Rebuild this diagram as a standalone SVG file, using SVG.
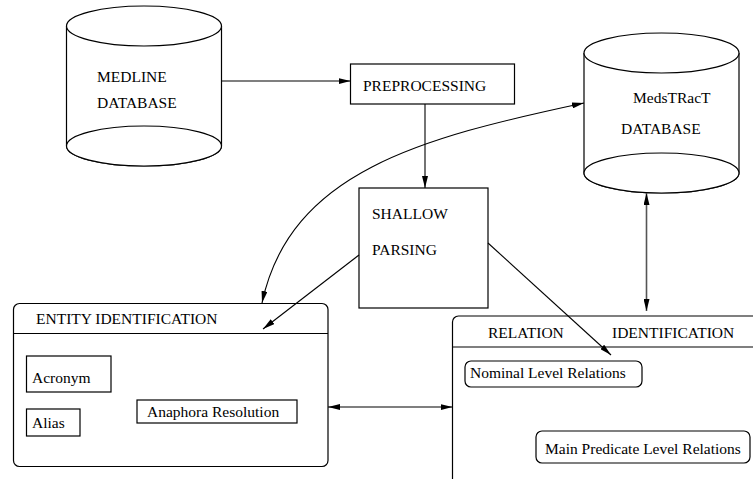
<svg xmlns="http://www.w3.org/2000/svg" width="753" height="479" viewBox="0 0 753 479">
<style>
text{font-family:'Liberation Serif','Times New Roman',Times,'DejaVu Serif',serif;font-size:15.5px;fill:#000}
.s{fill:#fff;stroke:#000;stroke-width:1.2}
.c{fill:none;stroke:#000;stroke-width:1.1}
</style>
<defs>
<marker id="ah" viewBox="0 0 12 6" refX="12" refY="3" markerWidth="12" markerHeight="6" orient="auto-start-reverse" markerUnits="userSpaceOnUse">
<path d="M0,0 L12,3 L0,6 Z" fill="#000"/>
</marker>
</defs>
<rect width="753" height="479" fill="#fff"/>
<g font-family="Liberation Serif, serif">
<g id="medline">
<path class="s" d="M66.5,26 V146 A77.5,20 0 0 0 221.5,146 V26"/>
<ellipse class="s" cx="144" cy="26" rx="77.5" ry="20"/>
<ellipse class="s" cx="144" cy="146" rx="77.5" ry="20"/>
<text x="97" y="82">MEDLINE</text>
<text x="97" y="108">DATABASE</text>
</g>
<g id="preprocessing">
<rect class="s" x="350.5" y="64" width="164" height="40"/>
<text x="363" y="91">PREPROCESSING</text>
</g>
<g id="medstract">
<path class="s" d="M584,53 V173 A77.5,20 0 0 0 739,173 V53"/>
<ellipse class="s" cx="661.5" cy="53" rx="77.5" ry="20"/>
<ellipse class="s" cx="661.5" cy="173" rx="77.5" ry="20"/>
<text x="633" y="103">MedsTRacT</text>
<text x="621" y="134">DATABASE</text>
</g>
<g id="shallow">
<rect class="s" x="359" y="188" width="129" height="120"/>
<text x="372" y="219">SHALLOW</text>
<text x="372" y="255">PARSING</text>
</g>
<g id="entity">
<rect class="s" x="13.5" y="303.5" width="314.5" height="163" rx="6"/>
<line class="c" x1="13.5" y1="333.5" x2="328" y2="333.5"/>
<text x="36" y="324">ENTITY IDENTIFICATION</text>
<rect class="s" x="26.5" y="356" width="84.5" height="36"/>
<text x="32" y="383">Acronym</text>
<rect class="s" x="26.5" y="409" width="53.5" height="27"/>
<text x="32" y="428">Alias</text>
<rect class="s" x="137" y="400" width="160" height="23"/>
<text x="147" y="417">Anaphora Resolution</text>
</g>
<g id="relation">
<rect class="s" x="452.5" y="316" width="320" height="190" rx="6"/>
<line class="c" x1="452.5" y1="347" x2="753" y2="347"/>
<text x="488" y="338">RELATION</text>
<text x="612" y="338">IDENTIFICATION</text>
<rect class="s" x="465" y="361" width="177" height="26" rx="6"/>
<text x="470" y="378">Nominal Level Relations</text>
<rect class="s" x="536" y="431" width="214" height="32" rx="6"/>
<text x="545" y="454">Main Predicate Level Relations</text>
</g>
</g>
<g id="connectors">
<line class="c" x1="221.5" y1="81" x2="350.5" y2="81" marker-end="url(#ah)"/>
<line class="c" x1="425" y1="104" x2="425" y2="188" marker-end="url(#ah)"/>
<path class="c" d="M584,103 C420,138 290,172 262,303" marker-start="url(#ah)" marker-end="url(#ah)"/>
<line class="c" x1="359" y1="255" x2="263" y2="329" marker-end="url(#ah)"/>
<line class="c" x1="488" y1="243" x2="611" y2="355" marker-end="url(#ah)"/>
<line class="c" x1="328" y1="407" x2="452.5" y2="407" marker-start="url(#ah)" marker-end="url(#ah)"/>
<line x1="646.5" y1="193" x2="646.5" y2="311" stroke="#555" stroke-width="1.6" marker-start="url(#ah)" marker-end="url(#ah)"/>
</g>
</svg>
